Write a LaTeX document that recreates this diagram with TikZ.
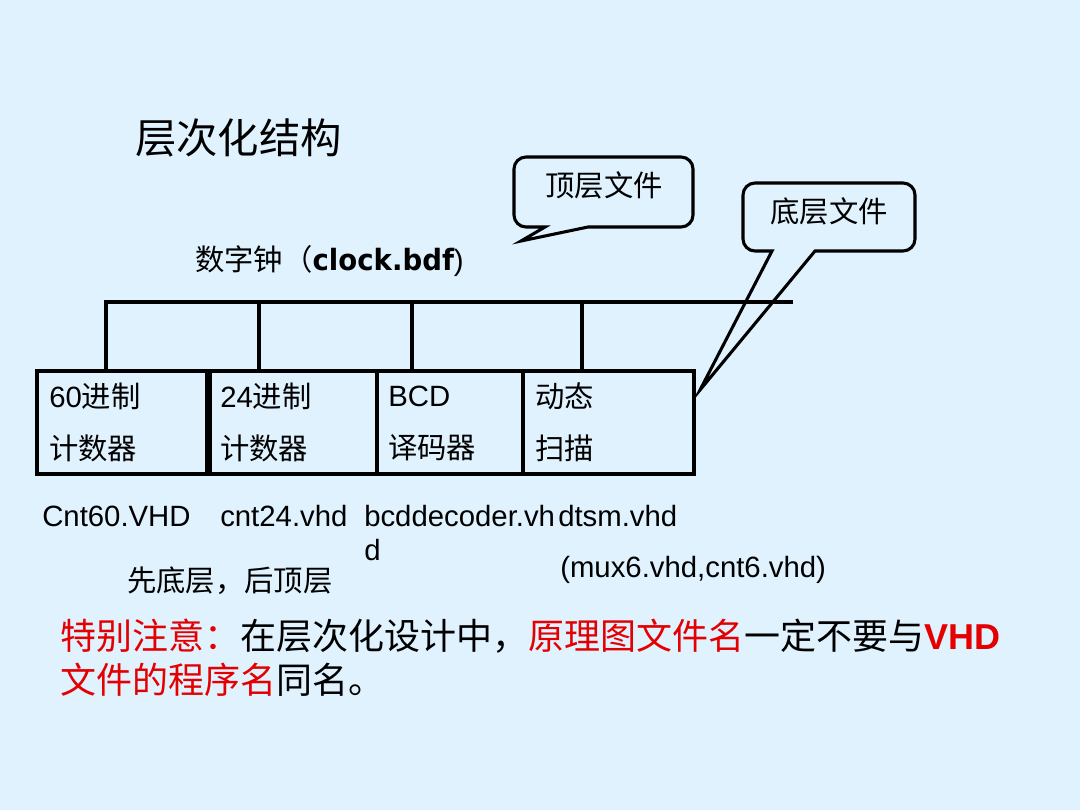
\documentclass[tikz,border=0pt]{standalone}
\usepackage{fontspec}
\setmainfont{Liberation Sans}
\newfontfamily\cjk{Noto Sans CJK SC}
\newfontfamily\dvs[FakeStretch=0.94]{DejaVu Sans}
\usetikzlibrary{fit}
\definecolor{bgblue}{RGB}{223,242,254}
\definecolor{hired}{RGB}{228,0,0}
\begin{document}
\begin{tikzpicture}[x=0.75pt,y=-0.75pt,
  txt/.style={anchor=west,inner sep=0pt,font=\fontsize{22}{26}\selectfont},
  bigtxt/.style={anchor=west,inner sep=0pt,font=\fontsize{27}{32}\selectfont},
  blk/.style={draw,line width=2.3pt,inner sep=0pt},
  wire/.style={line width=2.3pt,line join=miter},
  callout/.style={draw,line width=2.3pt,line join=miter}]
\fill[bgblue] (0,0) rectangle (1080,810);
\useasboundingbox (0,0) rectangle (1080,810);

\node[anchor=west,inner sep=0pt,font=\fontsize{31}{36}\selectfont] (title) at (135,138) {\cjk 层次化结构};

\node[txt] (clock) at (195,261) {{\cjk 数字钟（}{\dvs\bfseries clock.bdf}{)}};

% boxes
\node[blk,fit={(37,371) (207,474)}] (b1) {};
\node[blk,fit={(210,371) (377,474)}] (b2) {};
\node[blk,fit={(377,371) (523,474)}] (b3) {};
\node[blk,fit={(523,371) (694,474)}] (b4) {};

\node[txt] (b1a) at (49,396) {60{\cjk 进制}};
\node[txt] (b1b) at (49,448) {\cjk 计数器};
\node[txt] (b2a) at (220,396) {24{\cjk 进制}};
\node[txt] (b2b) at (220,448) {\cjk 计数器};
\node[txt] (b3a) at (388,396) {BCD};
\node[txt] (b3b) at (388,448) {\cjk 译码器};
\node[txt] (b4a) at (535,396) {\cjk 动态};
\node[txt] (b4b) at (535,448) {\cjk 扫描};

% bus
\coordinate (t1) at (106,302);
\coordinate (t2) at (259,302);
\coordinate (t3) at (412,302);
\coordinate (t4) at (582,302);
\coordinate (busend) at (793,302);
\draw[wire] (busend) -- (t1) -- (t1 |- b1.north);
\draw[wire] (t2) -- (t2 |- b2.north);
\draw[wire] (t3) -- (t3 |- b3.north);
\draw[wire] (t4) -- (t4 |- b4.north);

% file names
\node[txt] (f1) at (42,516) {Cnt60.VHD};
\node[txt] (f2) at (220,516) {cnt24.vhd};
\node[txt] (f3) at (364,516) {bcddecoder.vh};
\node[txt] (f3b) at (364,550) {d};
\node[txt] (f4) at (558,516) {dtsm.vhd};
\node[txt] (f4b) at (560,570) {(mux6.vhd,cnt6.vhd)};
\node[txt] (order) at (127,581) {\cjk 先底层，后顶层};

% callouts
\node[txt,anchor=center] (topfile) at (604,185) {\cjk 顶层文件};
\draw[callout] (604,157) [rounded corners=9pt] -- (693,157) -- (693,227) -- (640,227) [sharp corners] -- (588,227) -- (521,241) -- (545,227) -- (530,227) [rounded corners=9pt] -- (514,227) -- (514,157) -- cycle;

\node[txt,anchor=center] (botfile) at (829,211) {\cjk 底层文件};
\coordinate (tip2) at (700,390);
\draw[callout] (829,183) [rounded corners=9pt] -- (915,183) -- (915,251) -- (860,251) [sharp corners] -- (815,251) -- (tip2) -- (772,251) -- (760,251) [rounded corners=9pt] -- (743,251) -- (743,183) -- cycle;

% note
\node[bigtxt] (note1) at (60,636) {{\cjk\color{hired}特别注意：}{\cjk 在层次化设计中，}{\cjk\color{hired}原理图文件名}{\cjk 一定不要与}{\color{hired}\bfseries VHD}};
\node[bigtxt] (note2) at (60,680) {{\cjk\color{hired}文件的程序名}{\cjk 同名。}};
\end{tikzpicture}
\end{document}
